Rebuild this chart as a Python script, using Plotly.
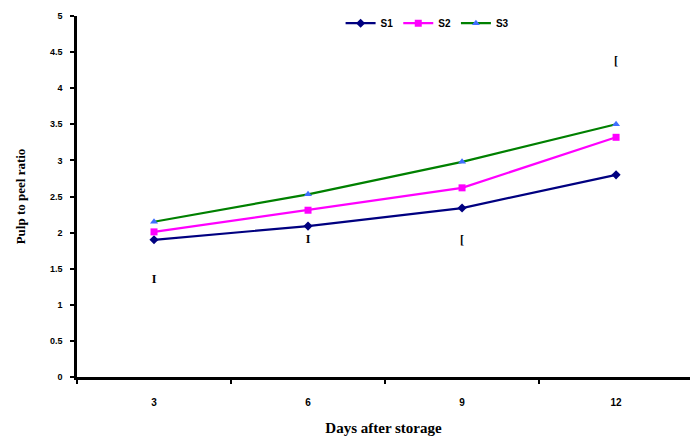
import plotly.graph_objects as go

days = ["3", "6", "9", "12"]
s1 = [1.90, 2.09, 2.34, 2.80]
s2 = [2.01, 2.31, 2.62, 3.32]
s3 = [2.15, 2.53, 2.98, 3.50]
mark_y = [1.34, 1.90, 1.88, 4.36]
mark_txt = ["<b>I</b>", "<b>I</b>", "<b>[</b>", "<b>[</b>"]
y_ticks = [0, 0.5, 1, 1.5, 2, 2.5, 3, 3.5, 4, 4.5, 5]

xs = list(range(len(days)))

fig = go.Figure()
fig.add_trace(go.Scatter(x=xs, y=s1, name="<b>S1</b>", mode="lines+markers",
                         line=dict(color="#000080", width=2.2),
                         marker=dict(symbol="diamond", size=7, color="#000080")))
fig.add_trace(go.Scatter(x=xs, y=s2, name="<b>S2</b>", mode="lines+markers",
                         line=dict(color="#ff00ff", width=2.2),
                         marker=dict(symbol="square", size=7, color="#ff00ff")))
fig.add_trace(go.Scatter(x=xs, y=s3, name="<b>S3</b>", mode="lines+markers",
                         line=dict(color="#008000", width=2.2),
                         marker=dict(symbol="triangle-up", size=7, color="#3f6fff")))
fig.add_trace(go.Scatter(x=xs, y=mark_y, mode="text", text=mark_txt, showlegend=False,
                         textfont=dict(family="Liberation Serif", size=12, color="black"),
                         hoverinfo="skip"))

fig.update_layout(
    width=690, height=439,
    margin=dict(l=77, r=0, t=16, b=62),
    plot_bgcolor="white", paper_bgcolor="white",
    font=dict(family="Liberation Sans", color="black"),
    legend=dict(orientation="h", x=0.43, y=0.98, xanchor="left", yanchor="middle",
                font=dict(size=10, family="Liberation Sans", color="black"),
                itemwidth=30, tracegroupgap=0, bgcolor="rgba(0,0,0,0)"),
    xaxis=dict(range=[-0.5, 3.48], tickvals=xs, ticktext=["<b>%s</b>" % d for d in days],
               ticks="", ticklabelstandoff=14,
               showline=True, linecolor="black", linewidth=2.5, showgrid=False,
               zeroline=False, tickfont=dict(size=10, family="Liberation Sans"),
               minor=dict(tick0=0.5, dtick=1, ticks="outside", ticklen=4,
                          tickcolor="black", tickwidth=2, showgrid=False),
               title=dict(text="<b>Days after storage</b>", standoff=16,
                          font=dict(family="Liberation Serif", size=15))),
    yaxis=dict(range=[0, 5], tickvals=y_ticks, ticktext=["<b>%g</b>" % v for v in y_ticks],
               ticks="outside", ticklen=4, ticklabelstandoff=6,
               tickwidth=2, tickcolor="black",
               showline=True, linecolor="black", linewidth=2.5, showgrid=False,
               zeroline=False, tickfont=dict(size=9, family="Liberation Sans"),
               title=dict(text="<b>Pulp to peel ratio</b>", standoff=22,
                          font=dict(family="Liberation Serif", size=13))),
)

fig.write_html("out.html")
